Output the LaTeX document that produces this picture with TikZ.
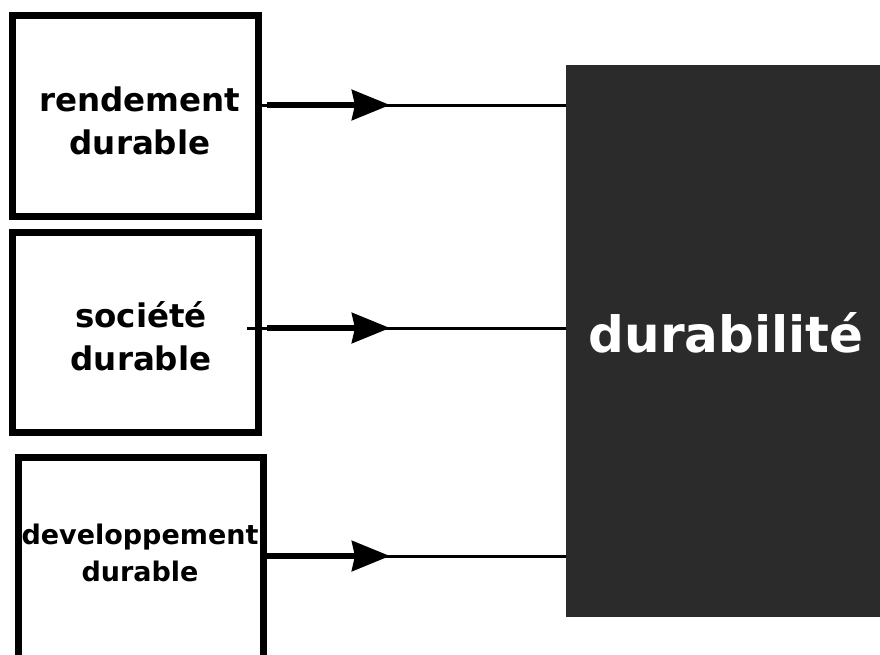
\documentclass[tikz,border=0pt]{standalone}
\usepackage{fontspec}
\setmainfont{DejaVu Sans}
\usetikzlibrary{arrows.meta}
\definecolor{darkfill}{HTML}{2B2B2B}
\begin{document}
\begin{tikzpicture}[x=1pt,y=-1pt,
  box/.style={draw=black, line width=7pt, minimum width=246pt, minimum height=201pt, inner sep=0pt},
  lab/.style={font=\bfseries\fontsize{32.5}{43}\selectfont, align=center, text=black, inner sep=0pt},
  labsmall/.style={font=\bfseries\fontsize{27}{37}\selectfont, align=center, text=black, inner sep=0pt},
  thinline/.style={line width=3pt},
  arrowpart/.style={line width=6pt, -{Stealth[length=38pt,width=30pt,inset=3pt]}}]
\useasboundingbox (0,0) rectangle (880,654);
\fill[white] (0,0) rectangle (880,654);
% boxes
\node[box] (b1) at (135,115.5) {};
\node[box, minimum height=200pt] (b2) at (135,332) {};
\node[box, minimum width=244.5pt, minimum height=207pt] (b3) at (140.75,560.5) {};
% labels
\node[lab] (t1) at (140,121) {rendement\\durable};
\node[lab] (t2) at (141,336) {société\\durable};
\node[labsmall] (t3) at (140,553) {developpement\\durable};
% dark box
\node[fill=darkfill, minimum width=314pt, minimum height=552pt, inner sep=0pt, anchor=north west] (D) at (566,65) {};
\node[font=\bfseries\fontsize{50}{60}\selectfont, text=white, inner sep=0pt] (TD) at (726,333) {durabilité};
% connectors
\coordinate (a1) at (267,105);
\coordinate (h1) at (390,105);
\coordinate (a2) at (267,328);
\coordinate (h2) at (390,328);
\coordinate (a3) at (267,556);
\coordinate (h3) at (390,556);
\draw[thinline] (b1.east |- a1) -- (D.west |- a1);
\draw[thinline] (247,328) -- (D.west |- a2);
\draw[thinline] (b3.east |- a3) -- (D.west |- a3);
\draw[arrowpart] (a1) -- (h1);
\draw[arrowpart] (a2) -- (h2);
\draw[arrowpart] (a3) -- (h3);
\end{tikzpicture}
\end{document}
